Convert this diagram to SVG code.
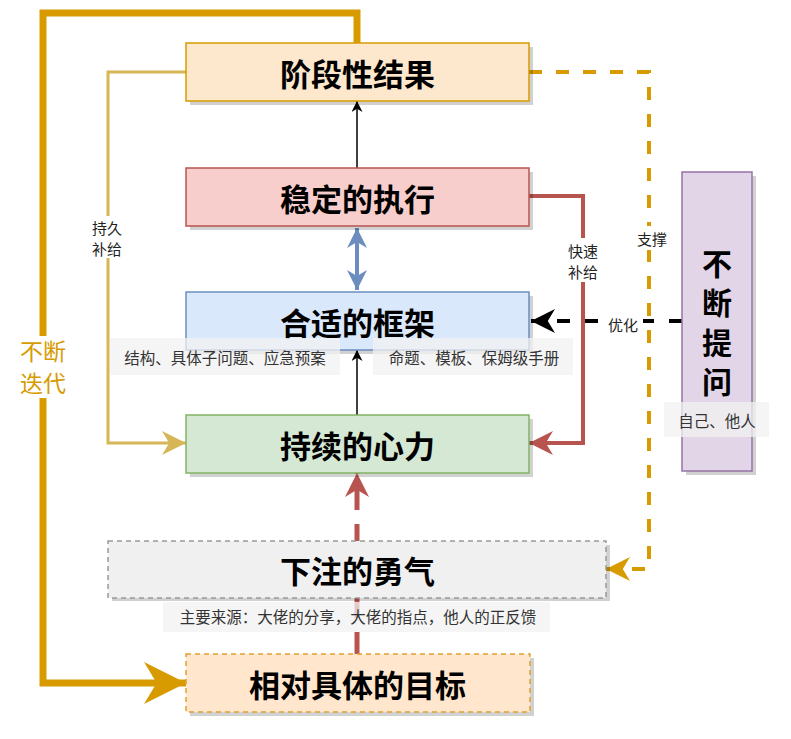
<svg xmlns="http://www.w3.org/2000/svg" width="791" height="739" viewBox="0 0 791 739">
<style>
text{font-family:"Noto Sans CJK SC","Noto Sans",sans-serif;text-anchor:middle;dominant-baseline:central}
.big{font-size:31px;font-weight:bold;fill:#000}
.vert{font-size:30px;font-weight:bold;fill:#000}
.sm{font-size:15px;fill:#222}
.lbl{font-size:15.5px;fill:#333}
.shadow{fill:#000;opacity:0.18}
.band{fill:#f2f2f2;opacity:0.75}
</style>
<defs>
<marker id="mBlack" viewBox="0 0 20 20" refX="20" refY="10" markerUnits="userSpaceOnUse" markerWidth="11" markerHeight="11" orient="auto"><path d="M0,0 L20,10 L0,20 L6,10 z" fill="#000"/></marker>
<marker id="mBlue" viewBox="0 0 20 20" refX="20" refY="10" markerUnits="userSpaceOnUse" markerWidth="20" markerHeight="22" orient="auto-start-reverse"><path d="M0,0 L20,10 L0,20 L6,10 z" fill="#6c8ebf"/></marker>
<marker id="mYel" viewBox="0 0 20 20" refX="20" refY="10" markerUnits="userSpaceOnUse" markerWidth="24" markerHeight="24" orient="auto"><path d="M0,0 L20,10 L0,20 L6,10 z" fill="#d6b656"/></marker>
<marker id="mRed" viewBox="0 0 20 20" refX="20" refY="10" markerUnits="userSpaceOnUse" markerWidth="24" markerHeight="24" orient="auto"><path d="M0,0 L20,10 L0,20 L6,10 z" fill="#b85450"/></marker>
<marker id="mOrBig" viewBox="0 0 20 20" refX="20" refY="10" markerUnits="userSpaceOnUse" markerWidth="42" markerHeight="42" orient="auto"><path d="M0,0 L20,10 L0,20 L6,10 z" fill="#d79b00"/></marker>
<marker id="mOr" viewBox="0 0 20 20" refX="20" refY="10" markerUnits="userSpaceOnUse" markerWidth="24" markerHeight="24" orient="auto"><path d="M0,0 L20,10 L0,20 L6,10 z" fill="#d79b00"/></marker>
<marker id="mBlk2" viewBox="0 0 20 20" refX="20" refY="10" markerUnits="userSpaceOnUse" markerWidth="24" markerHeight="24" orient="auto"><path d="M0,0 L20,10 L0,20 L6,10 z" fill="#000"/></marker>
</defs>
<rect width="791" height="739" fill="#fff"/>

<g id="connectors" fill="none">
<path d="M357,43 V13 H43 V683 H186" stroke="#d79b00" stroke-width="7" marker-end="url(#mOrBig)"/>
<path d="M186,72 H108 V443 H186" stroke="#d6b656" stroke-width="3" marker-end="url(#mYel)"/>
<path d="M357,168 V101" stroke="#000" stroke-width="1.5" marker-end="url(#mBlack)"/>
<path d="M357,228 V290" stroke="#6c8ebf" stroke-width="4" marker-start="url(#mBlue)" marker-end="url(#mBlue)"/>
<path d="M357,415 V350" stroke="#000" stroke-width="1.5" marker-end="url(#mBlack)"/>
<path d="M529,196 H583 V443 H529" stroke="#b85450" stroke-width="4" marker-end="url(#mRed)"/>
<path d="M357,654 V473" stroke="#b85450" stroke-width="5" stroke-dasharray="22 14" marker-end="url(#mRed)"/>
<path d="M529,72 H649 V569 H606" stroke="#d79b00" stroke-width="4" stroke-dasharray="13 14" marker-end="url(#mOr)"/>
<path d="M682,321 H531" stroke="#000" stroke-width="4" stroke-dasharray="13 15" marker-end="url(#mBlk2)"/>
</g>

<g id="edge-labels">
<rect x="18" y="336" width="50" height="62" fill="#fff"/>
<text x="43" y="350" style="font-size:23px;fill:#d79b00">不断</text>
<text x="43" y="382" style="font-size:23px;fill:#d79b00">迭代</text>
<rect x="88" y="216" width="40" height="42" fill="#fff"/>
<text class="sm" x="107" y="227">持久</text>
<text class="sm" x="107" y="248">补给</text>
<rect x="563" y="238" width="40" height="44" fill="#fff"/>
<text class="sm" x="583" y="250">快速</text>
<text class="sm" x="583" y="271">补给</text>
<rect x="632" y="226" width="40" height="24" fill="#fff"/>
<text class="sm" x="652" y="238">支撑</text>
<rect x="605" y="312" width="38" height="22" fill="#fff"/>
<text class="sm" x="623" y="324">优化</text>
</g>

<g id="node-result">
<rect class="shadow" x="190" y="47" width="343" height="58"/>
<rect x="186" y="43" width="343" height="58" fill="#fde7cd" stroke="#d79b00" stroke-width="1.5"/>
<text class="big" x="357.5" y="72">阶段性结果</text>
</g>

<g id="node-exec">
<rect class="shadow" x="190" y="172" width="343" height="58"/>
<rect x="186" y="168" width="343" height="58" fill="#f8cecc" stroke="#b85450" stroke-width="1.5"/>
<text class="big" x="357.5" y="197">稳定的执行</text>
</g>

<g id="node-frame">
<rect class="shadow" x="190" y="296" width="343" height="58"/>
<rect x="186" y="292" width="343" height="58" fill="#dae8fc" stroke="#6c8ebf" stroke-width="1.5"/>
<text class="big" x="357.5" y="321">合适的框架</text>
<rect class="band" x="110" y="338" width="230" height="37"/>
<text class="lbl" x="225" y="357">结构、具体子问题、应急预案</text>
<rect class="band" x="373" y="338" width="200" height="37"/>
<text class="lbl" x="474" y="357">命题、模板、保姆级手册</text>
</g>

<g id="node-power">
<rect class="shadow" x="190" y="419" width="343" height="58"/>
<rect x="186" y="415" width="343" height="58" fill="#d5e8d4" stroke="#82b366" stroke-width="1.5"/>
<text class="big" x="357.5" y="444">持续的心力</text>
</g>

<g id="node-courage">
<rect class="shadow" x="112" y="545" width="498" height="56" opacity="0.12"/>
<rect x="108" y="541" width="498" height="57" fill="#f0f0f0" stroke="#999" stroke-width="1.5" stroke-dasharray="5 4"/>
<text class="big" x="357.5" y="569">下注的勇气</text>
<rect class="band" x="163" y="602" width="387" height="30"/>
<text class="lbl" x="358" y="616">主要来源：大佬的分享，大佬的指点，他人的正反馈</text>
</g>

<g id="node-goal">
<rect class="shadow" x="190" y="658" width="344" height="58"/>
<rect x="186" y="654" width="344" height="58" fill="#ffe6cc" stroke="#e0a030" stroke-width="1.5" stroke-dasharray="5 4"/>
<text class="big" x="357.5" y="683">相对具体的目标</text>
</g>

<g id="node-ask">
<rect class="shadow" x="686" y="176" width="70" height="299"/>
<rect x="682" y="172" width="70" height="299" fill="#e1d5e7" stroke="#9673a6" stroke-width="1.5"/>
<text class="vert" x="717" y="262">不</text>
<text class="vert" x="717" y="301">断</text>
<text class="vert" x="717" y="341">提</text>
<text class="vert" x="717" y="380">问</text>
<rect class="band" x="664" y="402" width="105" height="35"/>
<text class="lbl" x="717" y="420">自己、他人</text>
</g>
</svg>
